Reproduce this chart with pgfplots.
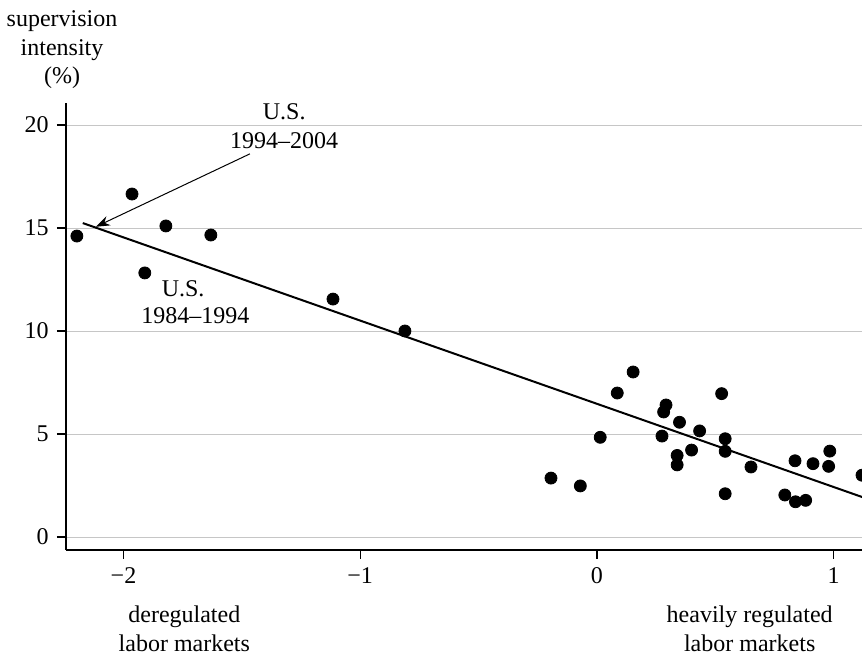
\documentclass[border=0pt]{standalone}
\usepackage{fontspec}
\setmainfont{Liberation Serif}
\usepackage{pgfplots}
\pgfplotsset{compat=1.18}
\usetikzlibrary{arrows.meta}
\begin{document}
\fontsize{12}{14.25}\selectfont
\begin{tikzpicture}
\begin{axis}[
  scale only axis,
  width=398pt, height=223.5pt,
  xmin=-2.243, xmax=1.12,
  ymin=-0.63, ymax=21.07,
  axis x line*=bottom, axis y line*=left,
  axis line style={line width=0.7pt},
  xtick={-2,-1,0,1},
  xticklabels={−2,−1,0,1},
  ytick={0,5,10,15,20},
  ymajorgrids,
  grid style={gray!45, line width=0.5pt},
  tick align=outside,
  major tick length=4.5pt,
  tick style={black, line width=0.6pt},
  /pgf/number format/assume math mode=true,
  ticklabel style={font=\fontsize{12}{14}\selectfont},
  clip=true,
]
\coordinate (BL) at (rel axis cs:-0.0829,-0.2371);
\coordinate (TR) at (rel axis cs:1,1.2304);
\coordinate (YL) at (rel axis cs:-0.005,1.119);
\coordinate (XL1) at (axis cs:-1.743,-4.46);
\coordinate (XL2) at (axis cs:0.6456,-4.46);
\addplot[only marks, mark=*, mark size=3pt, black] coordinates {
(-2.197,14.61) (-1.964,16.65) (-1.910,12.82) (-1.821,15.10) (-1.631,14.66)
(-1.115,11.55) (-0.811,10.0)
(0.153,8.01) (0.086,6.99) (0.527,6.96) (0.292,6.41) (0.282,6.07) (0.349,5.57)
(0.434,5.15) (0.014,4.84) (0.275,4.90) (0.542,4.77) (0.400,4.22) (0.542,4.16)
(0.339,3.96) (0.339,3.50) (0.651,3.40) (0.837,3.70) (0.913,3.56) (0.984,4.17)
(0.979,3.43) (1.120,3.00) (-0.194,2.86) (-0.070,2.48) (0.542,2.10) (0.794,2.04)
(0.839,1.71) (0.882,1.78)
};
\addplot[black, line width=1pt] coordinates {(-2.172,15.24) (1.2,1.62)};
\draw[-{Stealth[length=7pt,width=5pt]}, line width=0.5pt] (axis cs:-1.466,18.6) -- (axis cs:-2.117,15.06);
\node[align=center, inner sep=0pt] at (axis cs:-1.321,19.94) {U.S.\\1994–2004};
\node[inner sep=0pt] at (axis cs:-1.748,12.07) {U.S.};
\node[inner sep=0pt] at (axis cs:-1.696,10.76) {1984–1994};
\end{axis}
\node[align=center, inner sep=0pt] at (YL) {supervision\\intensity\\(\%)};
\node[align=center, inner sep=0pt] at (XL1) {deregulated\\labor markets};
\node[align=center, inner sep=0pt] at (XL2) {heavily regulated\\labor markets};
\pgfresetboundingbox
\useasboundingbox (BL) rectangle (TR);
\end{tikzpicture}
\end{document}
